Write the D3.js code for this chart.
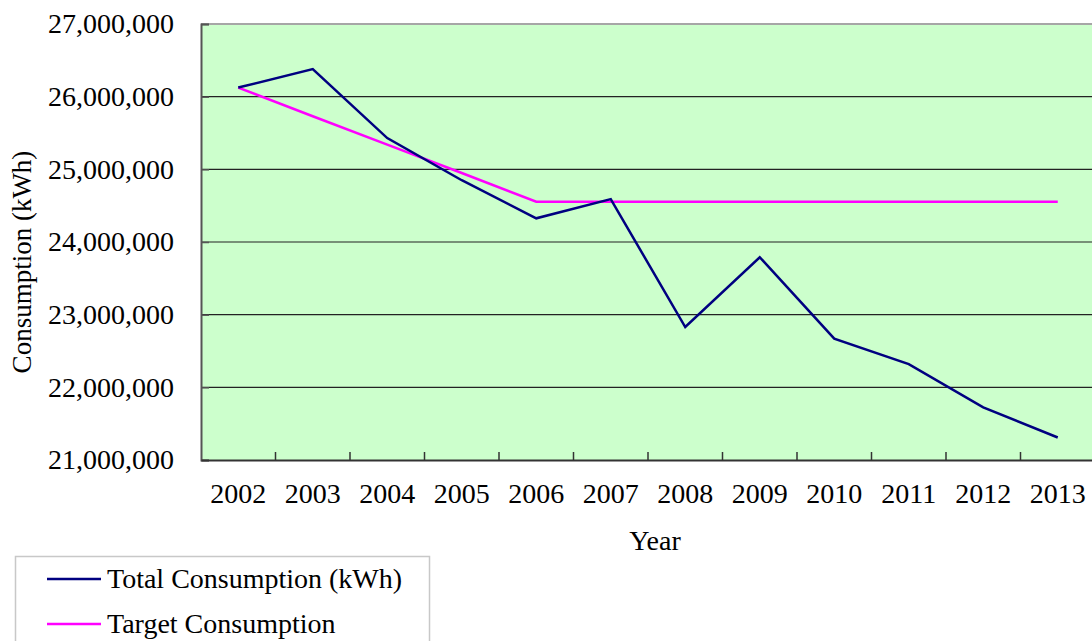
<!DOCTYPE html>
<html>
<head>
<meta charset="utf-8">
<script src="https://cdn.jsdelivr.net/npm/d3@7"></script>
<style>
  body { margin: 0; background: #fff; }
  svg { display: block; font-family: "Liberation Serif", "Times New Roman", serif; }
</style>
</head>
<body>
<svg id="chart" width="1092" height="641"></svg>
<script>
// chart data
const years = ["2002", "2003", "2004", "2005", "2006", "2007", "2008", "2009", "2010", "2011", "2012", "2013"];
const totalConsumption = [26125000, 26380000, 25430000, 24850000, 24326000, 24590000, 22830000, 23790000, 22670000, 22320000, 21725000, 21310000];
const targetConsumption = [26125000, 25730000, 25340000, 24950000, 24555000, 24555000, 24555000, 24555000, 24555000, 24555000, 24555000, 24555000];
const yTicks = [21000000, 22000000, 23000000, 24000000, 25000000, 26000000, 27000000];

const svg = d3.select("#chart"),
    margin = { top: 24, left: 201 },
    width = 894,
    height = 436;

const g = svg.append("g")
    .attr("transform", `translate(${margin.left},${margin.top})`);

const x = d3.scaleBand().domain(years).range([0, width]);
const y = d3.scaleLinear().domain([21000000, 27000000]).range([height, 0]);

// plot background
g.append("rect")
    .attr("width", width)
    .attr("height", height)
    .attr("fill", "#ccffcc");

// gridlines
g.selectAll("line.grid")
    .data(yTicks.slice(1, -1))
    .enter().append("line")
    .attr("class", "grid")
    .attr("x1", 0).attr("x2", width)
    .attr("y1", d => y(d)).attr("y2", d => y(d))
    .attr("stroke", "#222")
    .attr("stroke-width", 1.2);

// top border
g.append("line")
    .attr("x1", 0).attr("x2", width)
    .attr("y1", 0).attr("y2", 0)
    .attr("stroke", "#a6a6a6")
    .attr("stroke-width", 2);

// y axis
const yAxis = g.append("g")
    .call(d3.axisLeft(y).tickValues(yTicks).tickSize(-8).tickPadding(27).tickFormat(d3.format(",")));
yAxis.select(".domain").attr("stroke", "#555").attr("stroke-width", 2);
yAxis.selectAll(".tick line").attr("stroke", "#555").attr("stroke-width", 1.5);
yAxis.selectAll("text")
    .attr("font-family", "Liberation Serif")
    .attr("font-size", 28)
    .attr("fill", "#000");

// x axis with ticks between categories
const xAxis = g.append("g")
    .attr("transform", `translate(0,${height})`)
    .call(d3.axisBottom(x).tickSize(0).tickPadding(23));
xAxis.select(".domain").attr("stroke", "#333").attr("stroke-width", 2);
xAxis.selectAll("text")
    .attr("font-family", "Liberation Serif")
    .attr("font-size", 28)
    .attr("fill", "#000");
g.selectAll("line.xtick")
    .data(years.slice(1))
    .enter().append("line")
    .attr("class", "xtick")
    .attr("x1", d => x(d)).attr("x2", d => x(d))
    .attr("y1", height).attr("y2", height - 8)
    .attr("stroke", "#333")
    .attr("stroke-width", 1.5);

// lines
const line = d3.line()
    .x((d, i) => x(years[i]) + x.bandwidth() / 2)
    .y(d => y(d));

g.append("path")
    .datum(targetConsumption)
    .attr("d", line)
    .attr("fill", "none")
    .attr("stroke", "#ff00ff")
    .attr("stroke-width", 2.5);

g.append("path")
    .datum(totalConsumption)
    .attr("d", line)
    .attr("fill", "none")
    .attr("stroke", "#000080")
    .attr("stroke-width", 2.5);

// axis titles
svg.append("text")
    .attr("x", 655)
    .attr("y", 550)
    .attr("text-anchor", "middle")
    .attr("font-size", 28)
    .text("Year");

svg.append("text")
    .attr("transform", "translate(31,262) rotate(-90)")
    .attr("text-anchor", "middle")
    .attr("font-size", 27)
    .text("Consumption (kWh)");

// legend
const legend = svg.append("g");
legend.append("rect")
    .attr("x", 15.5).attr("y", 556.5)
    .attr("width", 414).attr("height", 100)
    .attr("fill", "#fff")
    .attr("stroke", "#c8c8c8")
    .attr("stroke-width", 1.5);

const legendItems = [
    { name: "Total Consumption (kWh)", color: "#000080" },
    { name: "Target Consumption", color: "#ff00ff" }
];
legendItems.forEach((item, i) => {
    const ly = 579 + i * 45;
    legend.append("line")
        .attr("x1", 47).attr("x2", 101)
        .attr("y1", ly).attr("y2", ly)
        .attr("stroke", item.color)
        .attr("stroke-width", 2.5);
    legend.append("text")
        .attr("x", 107)
        .attr("y", ly + 9)
        .attr("font-size", 28)
        .text(item.name);
});
</script>
</body>
</html>
